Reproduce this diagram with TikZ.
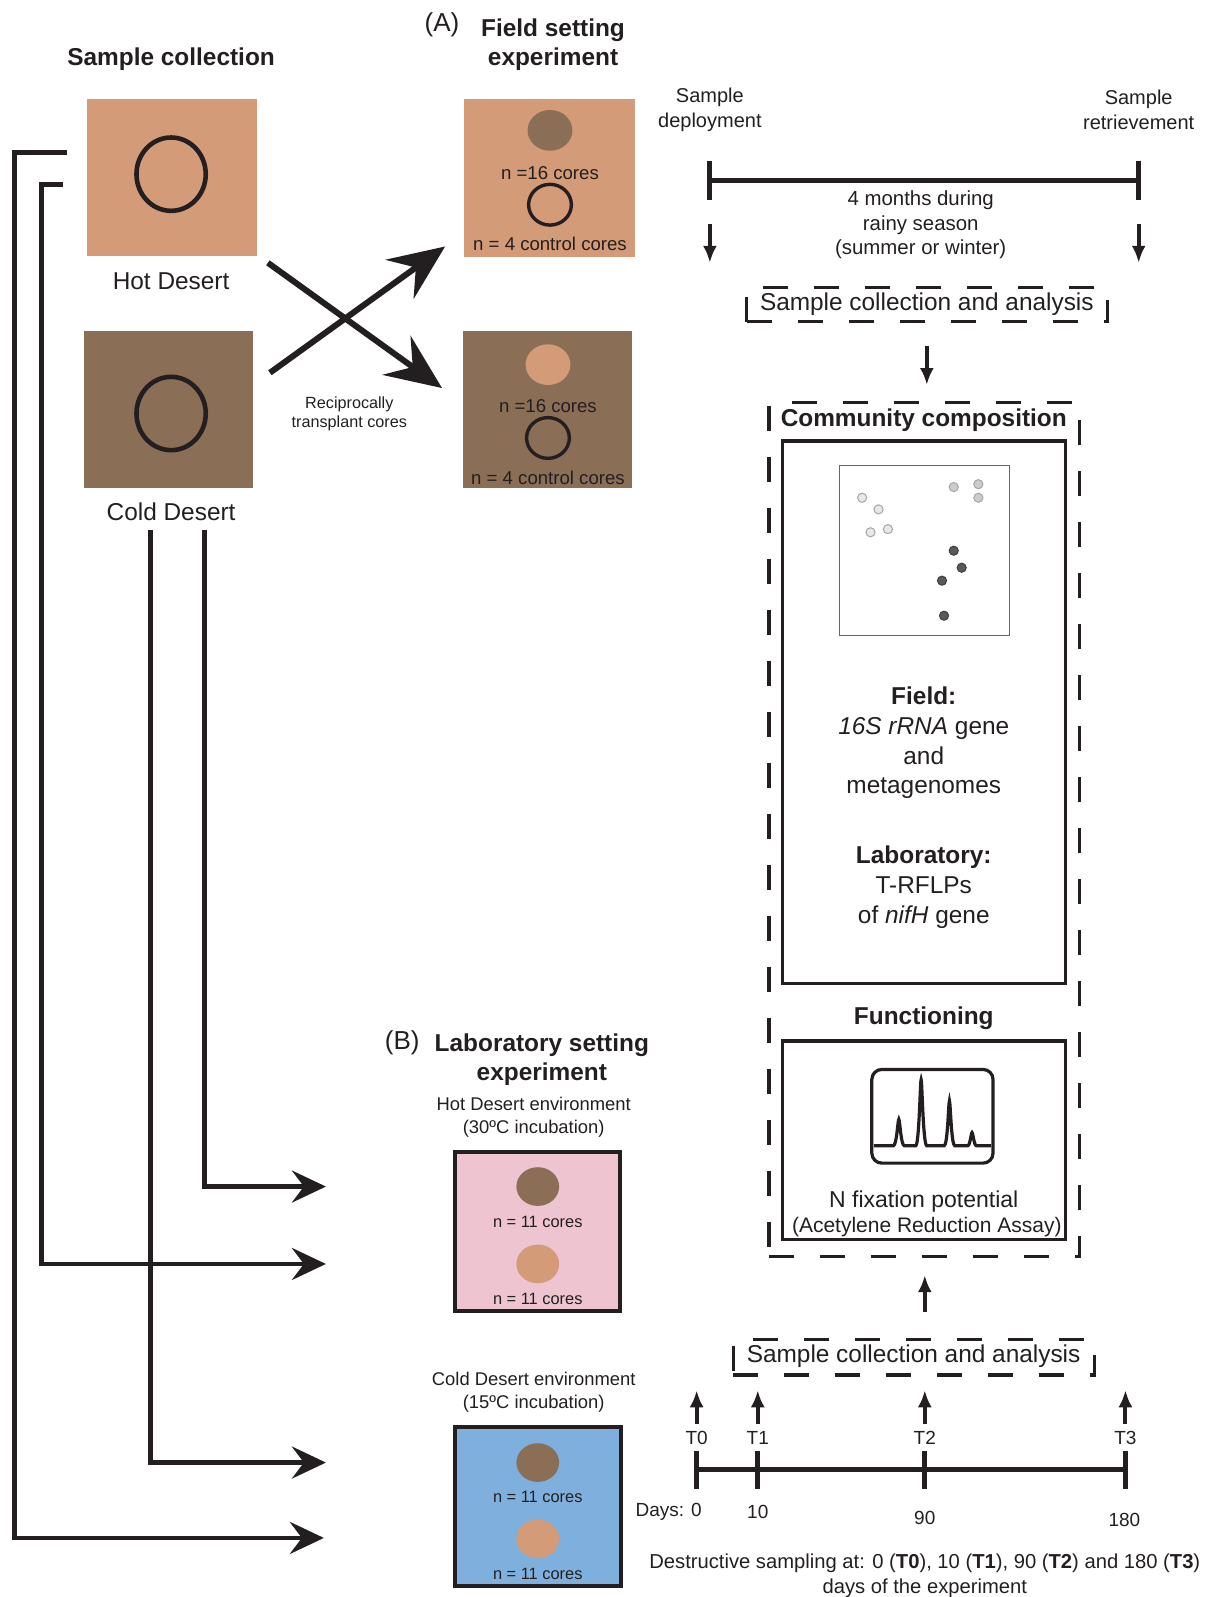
\documentclass[tikz,border=0pt]{standalone}
\usepackage{fontspec}
\setmainfont{Liberation Sans}
\usetikzlibrary{arrows.meta,fit}
\definecolor{tan}{HTML}{D39B77}
\definecolor{brownd}{HTML}{8B6E56}
\definecolor{pinkbg}{HTML}{EDC4CF}
\definecolor{bluebg}{HTML}{7FB0DD}
\definecolor{ink}{HTML}{231F20}
\begin{document}
\begin{tikzpicture}[x={(0.50925pt,0)}, y={(0,-0.50925pt)},
  every node/.style={inner sep=0pt, outer sep=0pt, text=ink},
  ttl/.style={font=\bfseries\fontsize{12.2}{14.5}\selectfont, align=center},
  med/.style={font=\fontsize{12.2}{14.8}\selectfont, align=center},
  sml/.style={font=\fontsize{10.1}{12.2}\selectfont, align=center},
  corestxt/.style={font=\fontsize{9.3}{11}\selectfont},
  tinytxt/.style={font=\fontsize{8.1}{9.7}\selectfont, align=center},
  envtxt/.style={font=\fontsize{9.2}{11.2}\selectfont, align=center},
  c11/.style={font=\fontsize{8.2}{9.6}\selectfont},
  boxfit/.style={fit={#1}, inner sep=0pt},
  conn/.style={draw=ink, line width=2.3pt, -{Stealth[length=17pt,width=16pt,inset=6pt]}},
  cross/.style={draw=ink, line width=3pt, -{Stealth[length=28pt,width=24pt,inset=10pt]}},
  smallarr/.style={draw=ink, line width=2pt, -{Latex[length=8.5pt,width=7pt]}},
  tline/.style={draw=ink, line width=2.6pt},
  dbox/.style={draw=ink, line width=1.6pt, dash pattern=on 12.5pt off 13pt},
  sbox/.style={draw=ink, line width=1.6pt},
  ring/.style={draw=ink, line width=2.3pt},
  ringsm/.style={draw=ink, line width=1.7pt},
  ptl/.style={fill=gray!18, draw=gray!70, line width=0.5pt},
  ptm/.style={fill=gray!40, draw=gray!70, line width=0.5pt},
  ptd/.style={fill=black!65, draw=black!75, line width=0.5pt}
]
\useasboundingbox (0,0) rectangle (1189,1568);

% ---------- titles ----------
\node[ttl] (tsc) at (168,58) {Sample collection};
\node[font=\fontsize{13}{15}\selectfont] (tA) at (434,24) {(A)};
\node[ttl, font=\bfseries\fontsize{12.2}{14.3}\selectfont] (tfield) at (543,44) {Field setting\\experiment};

% ---------- sample collection boxes ----------
\node[boxfit={(85,97) (252,251)}, fill=tan] (hot) {};
\draw[ring] (168,171) ellipse [x radius=34, y radius=36];
\node[med] (hotlbl) at (168,276) {Hot Desert};
\node[boxfit={(82,325) (248,479)}, fill=brownd] (cold) {};
\draw[ring] (168,406) ellipse [x radius=34, y radius=36];
\node[med] (coldlbl) at (168,502) {Cold Desert};

% ---------- field boxes ----------
\node[boxfit={(456,97) (623,252)}, fill=tan] (hotfield) {};
\fill[brownd] (540,128) ellipse [x radius=22, y radius=20];
\node[corestxt] (hf1) at (540,170) {n =16 cores};
\draw[ringsm] (540,201) ellipse [x radius=21, y radius=20];
\node[corestxt] (hf2) at (540,239) {n = 4 control cores};
\node[boxfit={(455,325) (621,479)}, fill=brownd] (coldfield) {};
\fill[tan] (538,358) ellipse [x radius=22, y radius=20];
\node[corestxt] (cf1) at (538,399) {n =16 cores};
\draw[ringsm] (538,430) ellipse [x radius=21, y radius=20];
\node[corestxt] (cf2) at (538,469) {n = 4 control cores};

% ---------- crossing arrows ----------
\coordinate (xa0) at (265,366);
\coordinate (xa1) at (437,242);
\coordinate (xb0) at (263,258);
\coordinate (xb1) at (434,381);
\draw[cross] (xa0) -- (xa1);
\draw[cross] (xb0) -- (xb1);
\node[tinytxt] (recip) at (343,406) {Reciprocally\\transplant cores};

% ---------- left connectors ----------
\coordinate (o0) at (66,150);
\coordinate (o1) at (14,150);
\coordinate (o2) at (14,1510);
\coordinate (o3) at (318,1510);
\coordinate (i0) at (62,181);
\coordinate (i1) at (41,181);
\coordinate (i2) at (41,1241);
\coordinate (i3) at (320,1241);
\coordinate (a0) at (148,520);
\coordinate (a1) at (148,1436);
\coordinate (a2) at (320,1436);
\coordinate (b0) at (201,520);
\coordinate (b1) at (201,1165);
\coordinate (b2) at (320,1165);
\draw[conn] (o0) -- (o1) -- (o2) -- (o3);
\draw[conn] (i0) -- (i1) -- (i2) -- (i3);
\draw[conn] (a0) -- (a1) -- (a2);
\draw[conn] (b0) -- (b1) -- (b2);

% ---------- top timeline ----------
\node[sml, font=\fontsize{10}{12.2}\selectfont] (dep) at (697,108) {Sample\\deployment};
\node[sml, font=\fontsize{10}{12.2}\selectfont] (ret) at (1118,108) {Sample\\retrievement};
\coordinate (tl0) at (697,177);
\coordinate (tl1) at (1118,177);
\draw[tline] (tl0) -- (tl1);
\draw[tline] (697,158) -- (697,196);
\draw[tline] (1118,158) -- (1118,196);
\node[sml, font=\fontsize{10.2}{12.2}\selectfont] (months) at (904,221) {4 months during\\rainy season\\(summer or winter)};
\coordinate (d0a) at (697,220); \coordinate (d0b) at (697,258);
\coordinate (d1a) at (1118,220); \coordinate (d1b) at (1118,258);
\draw[smallarr] (d0a) -- (d0b);
\draw[smallarr] (d1a) -- (d1b);
\node[boxfit={(733,282) (1087,316)}, dbox] (sca1) {};
\node[med] (sca1t) at (910,299) {Sample collection and analysis};
\coordinate (m0) at (910,340); \coordinate (m1) at (910,378);
\draw[smallarr] (m0) -- (m1);

% ---------- big dashed box ----------
\node[boxfit={(755,395) (1060,1234)}, dbox] (big) {};
\node[ttl] (comm) at (907,413) {Community composition};
\node[boxfit={(768,433) (1046,966)}, sbox] (box1) {};
\node[boxfit={(824,457) (991,624)}, draw=gray!80!black, line width=0.6pt] (scatter) {};
\foreach \p in {(846.5,488.7),(862.6,500.1),(854.7,522.6),(871.8,519.5)} \draw[ptl] \p circle [radius=4.5];
\foreach \p in {(936.4,478.2),(960.6,475.4),(960.6,488.7)} \draw[ptm] \p circle [radius=4.5];
\foreach \p in {(936.4,540.7),(944.2,557.4),(924.9,570.1),(926.9,604.5)} \draw[ptd] \p circle [radius=4.5];
\node[med] (fld) at (907,729.5) {\textbf{Field:}\\\textit{16S rRNA} gene\\and\\metagenomes};
\node[med] (lab) at (907,871) {\textbf{Laboratory:}\\T-RFLPs\\of \textit{nifH} gene};
\node[ttl] (func) at (907,1000) {Functioning};
\node[boxfit={(768,1022) (1046,1217)}, sbox] (box2) {};
\node[boxfit={(856,1050) (975,1142)}, draw=ink, line width=1.6pt, rounded corners=5pt] (chrom) {};
\draw[ink, line width=1.6pt] (858,1125) -- (877,1125) .. controls (880.5,1125) and (881.5,1099) .. (882.5,1099) .. controls (883.5,1099) and (884.5,1125) .. (888,1125) -- (899,1125) .. controls (902.5,1125) and (903.5,1060) .. (904.4,1060) .. controls (905.3,1060) and (906.3,1125) .. (910,1125) -- (927,1125) .. controls (930.5,1125) and (931.3,1081) .. (932.2,1081) .. controls (933.1,1081) and (934,1125) .. (937.5,1125) -- (950,1125) .. controls (952.5,1125) and (953.5,1112) .. (954.4,1112) .. controls (955.3,1112) and (956.3,1125) .. (958.8,1125) -- (973,1125);
\node[font=\fontsize{11.5}{13}\selectfont] (nfix) at (907,1180) {N fixation potential};
\node[font=\fontsize{10.5}{12}\selectfont] (ara) at (910,1205) {(Acetylene Reduction Assay)};

% ---------- bottom timeline ----------
\node[boxfit={(720,1315) (1075,1350)}, dbox] (sca2) {};
\node[med] (sca2t) at (897,1332) {Sample collection and analysis};
\coordinate (u0) at (908,1288); \coordinate (u1) at (908,1252);
\draw[smallarr] (u0) -- (u1);
\foreach \x/\t/\n in {684/T0/0, 744/T1/1, 908/T2/2, 1105/T3/3} {
  \coordinate (ua\n) at (\x,1398);
  \coordinate (ub\n) at (\x,1365);
  \draw[smallarr] (ua\n) -- (ub\n);
  \node[font=\fontsize{9.5}{11}\selectfont] (tt\n) at (\x,1412) {\t};
  \draw[tline] (\x,1425) -- (\x,1462);
}
\coordinate (bt0) at (684,1443);
\coordinate (bt1) at (1105,1443);
\draw[tline] (bt0) -- (bt1);
\node[font=\fontsize{9.5}{11}\selectfont, anchor=east] (days) at (689,1484) {Days: 0};
\node[font=\fontsize{9.5}{11}\selectfont] (d10) at (744,1484) {10};
\node[font=\fontsize{9.5}{11}\selectfont] (d90) at (908,1490) {90};
\node[font=\fontsize{9.5}{11}\selectfont] (d180) at (1104,1492) {180};
\node[font=\fontsize{10.1}{12.7}\selectfont, align=center] (destr) at (908,1547) {Destructive sampling at: 0 (\textbf{T0}), 10 (\textbf{T1}), 90 (\textbf{T2}) and 180 (\textbf{T3})\\days of the experiment};

% ---------- laboratory ----------
\node[font=\fontsize{13}{15}\selectfont] (tB) at (395,1024) {(B)};
\node[ttl, font=\bfseries\fontsize{12.2}{14.8}\selectfont] (tlab) at (532,1040.5) {Laboratory setting\\experiment};
\node[envtxt] (henv) at (524,1097) {Hot Desert environment\\(30ºC incubation)};
\node[boxfit={(447,1131) (609,1287)}, fill=pinkbg, draw=ink, line width=2.2pt] (pink) {};
\fill[brownd] (528,1165) ellipse [x radius=21, y radius=19];
\node[c11] (p1) at (528,1200) {n = 11 cores};
\fill[tan] (528,1241) ellipse [x radius=21, y radius=19];
\node[c11] (p2) at (528,1275) {n = 11 cores};
\node[envtxt] (cenv) at (524,1367) {Cold Desert environment\\(15ºC incubation)};
\node[boxfit={(447,1401) (610,1557)}, fill=bluebg, draw=ink, line width=2.2pt] (blue) {};
\fill[brownd] (528,1436) ellipse [x radius=21, y radius=19];
\node[c11] (q1) at (528,1470) {n = 11 cores};
\fill[tan] (528,1511) ellipse [x radius=21, y radius=19];
\node[c11] (q2) at (528,1545) {n = 11 cores};
\end{tikzpicture}
\end{document}
